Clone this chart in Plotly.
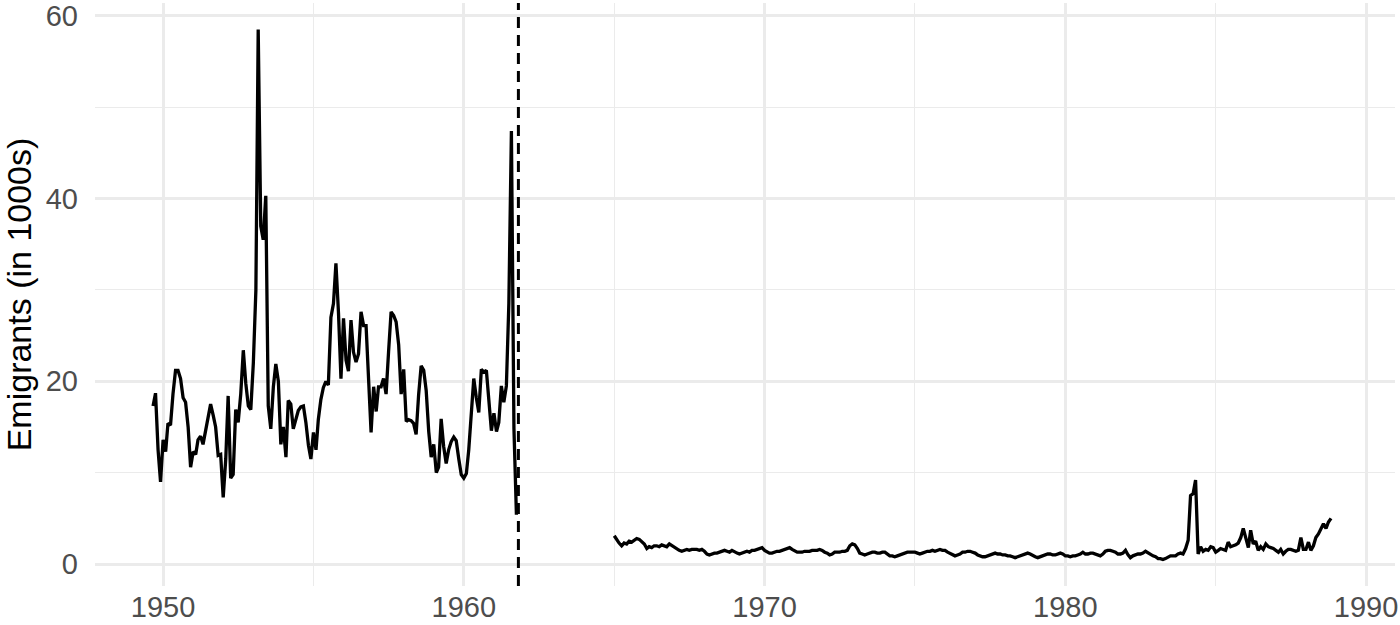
import pandas as pd
import plotly.graph_objects as go

# monthly emigrants in thousands, first block: Sep 1949 - Oct 1961
early_start = "1949-09-01"
early_values = [
    17.3, 18.7, 12.5, 9.0,
    13.6, 12.3, 15.4, 15.2, 18.6, 21.2, 21.2, 20.3, 18.2, 17.7, 15.0, 10.6,
    12.3, 12.0, 13.6, 14.0, 13.1, 14.5, 16.0, 17.5, 16.3, 15.0, 11.9, 12.0,
    7.3, 11.5, 18.4, 9.4, 9.8, 16.9, 15.5, 18.6, 23.4, 19.8, 17.3, 16.9,
    22.0, 30.0, 58.5, 37.0, 35.5, 40.3, 17.3, 14.8, 19.4, 21.9, 20.0, 13.1,
    15.0, 11.7, 17.9, 17.5, 14.8, 15.8, 16.8, 17.2, 17.3, 15.5, 13.0, 11.5,
    14.4, 12.5, 15.8, 18.0, 19.3, 20.0, 19.6, 27.0, 28.5, 32.9, 27.5, 20.3,
    26.9, 22.3, 21.1, 26.7, 23.2, 22.1, 23.0, 27.6, 26.1, 26.1, 20.3, 14.4,
    19.4, 16.7, 19.4, 19.4, 20.3, 18.6, 23.2, 27.6, 27.2, 26.5, 24.0, 18.6,
    21.3, 15.6, 15.8, 15.7, 15.4, 14.2, 18.5, 21.7, 21.2, 19.0, 14.5, 11.7,
    13.1, 10.0, 10.6, 15.9, 12.9, 11.0, 12.5, 13.4, 13.9, 13.5, 11.5, 9.8,
    9.4, 9.9, 12.5, 17.0, 20.3, 18.2, 16.6, 21.3, 21.0, 21.2, 17.5, 14.6,
    16.5, 14.5, 15.5, 19.5, 17.7, 19.5, 28.5, 47.4, 14.8, 5.4,
]

# second block: Jan 1965 - Nov 1988
late_start = "1965-01-01"
late_values = [
    3.1, 2.6, 2.3, 2.0, 2.3, 2.2, 2.5, 2.4, 2.6, 2.8, 2.7, 2.5,
    2.2, 1.7, 1.9, 1.8, 2.0, 2.0, 1.9, 2.1, 2.0, 1.9, 2.2, 2.0,
    1.8, 1.6, 1.5, 1.4, 1.5, 1.6, 1.5, 1.6, 1.6, 1.6, 1.5, 1.6,
    1.4, 1.1, 1.0, 1.1, 1.2, 1.2, 1.3, 1.4, 1.5, 1.4, 1.3, 1.5,
    1.3, 1.2, 1.1, 1.2, 1.3, 1.4, 1.3, 1.5, 1.5, 1.6, 1.7, 1.8,
    1.5, 1.3, 1.2, 1.2, 1.3, 1.4, 1.4, 1.5, 1.6, 1.7, 1.8, 1.6,
    1.4, 1.3, 1.3, 1.3, 1.4, 1.4, 1.4, 1.5, 1.5, 1.5, 1.6, 1.5,
    1.3, 1.2, 1.0, 1.1, 1.3, 1.3, 1.3, 1.4, 1.4, 1.5, 2.0, 2.2,
    2.1, 1.7, 1.2, 1.1, 1.0, 1.1, 1.2, 1.3, 1.3, 1.2, 1.2, 1.3,
    1.3, 1.1, 0.9, 0.9, 0.8, 0.9, 1.0, 1.1, 1.2, 1.3, 1.3, 1.3,
    1.3, 1.2, 1.1, 1.2, 1.3, 1.4, 1.4, 1.5, 1.4, 1.5, 1.6, 1.5,
    1.5, 1.3, 1.2, 1.0, 0.9, 1.0, 1.1, 1.3, 1.3, 1.4, 1.4, 1.3,
    1.2, 1.0, 0.9, 0.8, 0.8, 0.9, 1.0, 1.1, 1.2, 1.1, 1.1, 1.0,
    1.0, 0.9, 0.9, 0.8, 0.7, 0.8, 0.9, 1.0, 1.1, 1.2, 1.1, 0.9,
    0.8, 0.7, 0.8, 0.9, 1.0, 1.1, 1.1, 1.0, 1.0, 1.1, 1.2, 1.1,
    0.9, 0.9, 0.8, 0.9, 0.9, 1.0, 1.1, 1.3, 1.1, 1.1, 1.2, 1.2,
    1.1, 1.0, 0.9, 1.1, 1.4, 1.5, 1.5, 1.4, 1.3, 1.1, 1.1, 1.2,
    1.5, 1.0, 0.7, 0.9, 1.0, 1.1, 1.1, 1.2, 1.4, 1.2, 1.0, 0.9,
    0.8, 0.6, 0.6, 0.5, 0.6, 0.8, 0.9, 0.9, 0.9, 1.1, 1.2, 1.1,
    1.7, 2.6, 7.5, 7.7, 9.2, 1.1, 1.9, 1.4, 1.6, 1.5, 1.9, 1.8,
    1.3, 1.5, 1.7, 1.6, 1.5, 2.4, 1.9, 2.0, 2.1, 2.3, 2.9, 3.9,
    3.0, 1.8, 3.7, 2.2, 2.5, 1.5, 1.9, 1.6, 2.2, 1.9, 1.8, 1.7,
    1.5, 1.3, 1.6, 1.1, 1.4, 1.6, 1.6, 1.5, 1.4, 1.5, 2.9, 1.6,
    1.6, 2.4, 1.5, 2.0, 2.9, 3.3, 3.8, 4.4, 3.9, 4.6, 5.0,
]

wall_date = "1961-10-25"
year_ticks = ["1950-01-01", "1960-01-01", "1970-01-01", "1980-01-01", "1990-01-01"]
year_labels = ["1950", "1960", "1970", "1980", "1990"]
y_ticks = [0, 20, 40, 60]

early_dates = pd.date_range(early_start, periods=len(early_values), freq="MS")
late_dates = pd.date_range(late_start, periods=len(late_values), freq="MS")

line_style = dict(color="black", width=3.3)
fig = go.Figure()
fig.add_trace(go.Scatter(x=early_dates, y=early_values, mode="lines",
                         line=line_style, showlegend=False))
fig.add_trace(go.Scatter(x=late_dates, y=late_values, mode="lines",
                         line=line_style, showlegend=False))
fig.add_shape(type="line", xref="x", yref="paper", x0=wall_date, x1=wall_date,
              y0=0, y1=1, line=dict(color="black", width=3, dash="11px,7px"))

grid = "#EBEBEB"
fig.update_layout(
    width=1400, height=625,
    margin=dict(l=95, r=5, t=3, b=39),
    paper_bgcolor="white",
    plot_bgcolor="white",
    font=dict(family="Liberation Sans, Arial, sans-serif", size=29, color="#4D4D4D"),
    xaxis=dict(
        type="date",
        range=["1947-09-27", "1990-12-18"],
        tickvals=year_ticks, ticktext=year_labels,
        showgrid=True, gridcolor=grid, gridwidth=2.6,
        minor=dict(dtick="M60", tick0="1945-01-01", showgrid=True,
                   gridcolor=grid, gridwidth=1.4),
        zeroline=False, showline=False, ticks="",
        automargin=False,
        ticklabelstandoff=1,
        ticklabeloverflow="allow",
    ),
    yaxis=dict(
        range=[-2.4, 61.4],
        tickvals=y_ticks,
        showgrid=True, gridcolor=grid, gridwidth=2.6,
        minor=dict(dtick=10, tick0=0, showgrid=True,
                   gridcolor=grid, gridwidth=1.4),
        zeroline=False, showline=False, ticks="",
        automargin=False,
        ticklabelstandoff=16,
        ticklabeloverflow="allow",
        title=dict(text="Emigrants (in 1000s)", font=dict(size=34, color="black"),
                   standoff=5),
    ),
)

# the page body has a default 8px margin; drop it so the figure fills the window
fig.write_html("out.html", config={"displayModeBar": False},
               post_script="document.body.style.margin = '0';")
